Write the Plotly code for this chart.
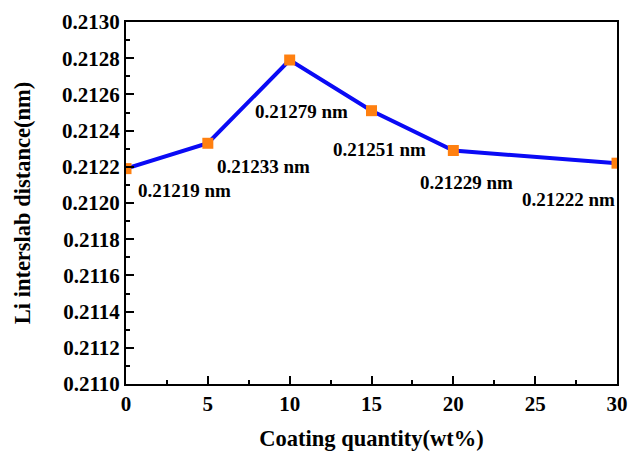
import plotly.graph_objects as go

coating = [0, 5, 10, 15, 20, 30]
distance = [0.21219, 0.21233, 0.21279, 0.21251, 0.21229, 0.21222]
labels = ["0.21219 nm", "0.21233 nm", "0.21279 nm", "0.21251 nm", "0.21229 nm", "0.21222 nm"]
label_dx = [58, 56, 12, 8, 13, -49]
label_dy = [-22, -23, -51, -39, -32, -36]

FONT = "Liberation Serif"

fig = go.Figure()
fig.add_trace(go.Scatter(
    x=coating, y=distance, mode="lines+markers",
    line=dict(color="#0A0AF5", width=4),
    marker=dict(symbol="square", size=11, color="#FF8010"),
    showlegend=False,
))

for xv, yv, t, dx, dy in zip(coating, distance, labels, label_dx, label_dy):
    fig.add_annotation(x=xv, y=yv, text="<b>%s</b>" % t, showarrow=False,
                       xshift=dx, yshift=dy,
                       font=dict(family=FONT, size=19, color="black"))

fig.update_layout(
    width=629, height=451,
    margin=dict(l=126, r=12, t=22, b=67),
    paper_bgcolor="white", plot_bgcolor="white",
    font=dict(family=FONT, color="black"),
)
fig.update_xaxes(
    range=[0, 30], tickvals=[0, 5, 10, 15, 20, 25, 30],
    ticktext=["<b>%d</b>" % v for v in [0, 5, 10, 15, 20, 25, 30]],
    ticks="inside", ticklen=8, tickwidth=2, tickcolor="black",
    minor=dict(dtick=2.5, ticks="inside", ticklen=4, tickwidth=2, tickcolor="black"),
    showline=True, linecolor="black", linewidth=2, mirror=True,
    showgrid=False, zeroline=False, automargin=False,
    ticklabeloverflow="allow",
    tickfont=dict(family=FONT, size=21),
    title=dict(text="<b>Coating quantity(wt%)</b>", font=dict(family=FONT, size=22.5), standoff=18),
)
yt = [0.2110 + 0.0002 * i for i in range(11)]
fig.update_yaxes(
    range=[0.2110, 0.2130], tickvals=yt,
    ticktext=["<b>%.4f</b>" % v for v in yt],
    ticks="inside", ticklen=8, tickwidth=2, tickcolor="black",
    minor=dict(dtick=0.0001, ticks="inside", ticklen=4, tickwidth=2, tickcolor="black"),
    showline=True, linecolor="black", linewidth=2, mirror=True,
    showgrid=False, zeroline=False, automargin=False,
    ticklabeloverflow="allow",
    tickfont=dict(family=FONT, size=21),
    title=dict(text="<b>Li interslab distance(nm)</b>", font=dict(family=FONT, size=22.5), standoff=25),
)

fig.write_html("out.html", config={"displayModeBar": False},
               post_script="document.body.style.margin='0';document.body.style.overflow='hidden';")
